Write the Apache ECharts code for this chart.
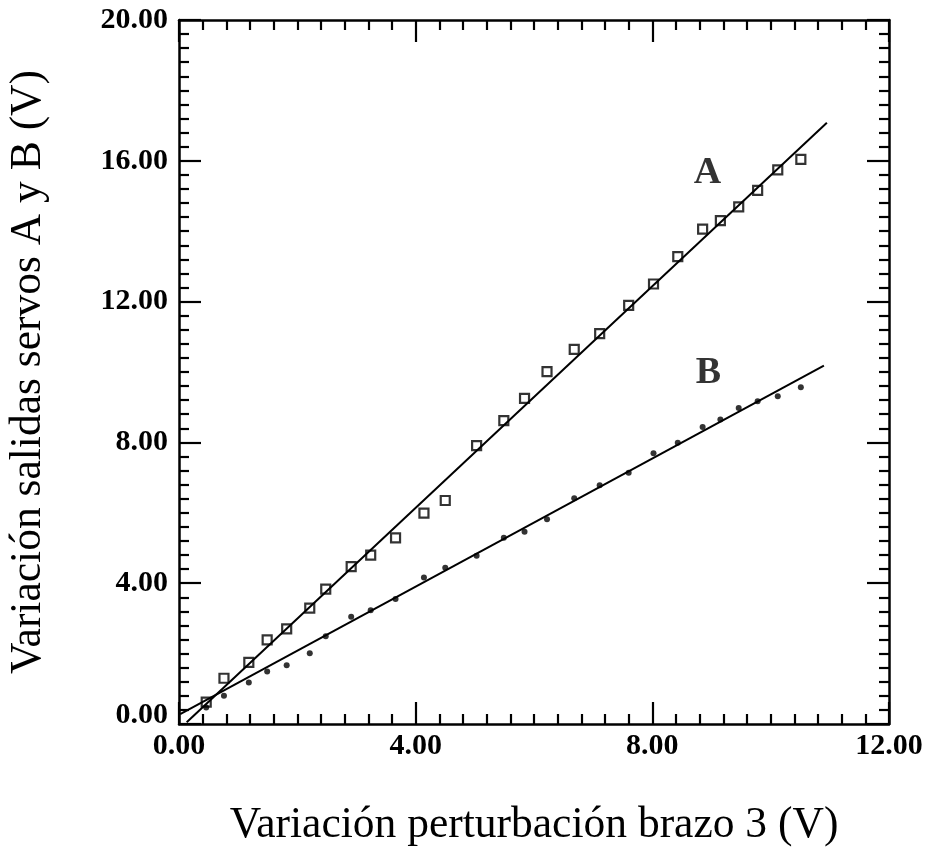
<!DOCTYPE html>
<html>
<head>
<meta charset="utf-8">
<script src="https://cdn.jsdelivr.net/npm/echarts@6/dist/echarts.min.js"></script>
<style>
  html, body { margin: 0; padding: 0; background: #fff; }
  #chart { width: 929px; height: 850px; }
</style>
</head>
<body>
<div id="chart"></div>
<script>
// Perturbation applied to arm 3 (V)
const perturbacion = [0.46, 0.76, 1.18, 1.49, 1.82, 2.21, 2.48, 2.91, 3.24, 3.66, 4.14, 4.50, 5.03, 5.49,
  5.84, 6.22, 6.68, 7.11, 7.60, 8.02, 8.43, 8.85, 9.15, 9.46, 9.78, 10.12, 10.51];
// Output change of servo A (V)
const servoA = [0.62, 1.30, 1.75, 2.39, 2.70, 3.29, 3.83, 4.47, 4.80, 5.29, 5.99, 6.35, 7.91, 8.62,
  9.25, 10.01, 10.64, 11.09, 11.89, 12.50, 13.28, 14.06, 14.30, 14.69, 15.16, 15.74, 16.04];
// Output change of servo B (V)
const servoB = [0.47, 0.80, 1.18, 1.49, 1.67, 2.01, 2.49, 3.05, 3.23, 3.55, 4.16, 4.44, 4.78, 5.29,
  5.46, 5.82, 6.41, 6.78, 7.14, 7.69, 7.99, 8.44, 8.65, 8.98, 9.17, 9.31, 9.57];
// Fitted straight lines (start and end points)
const ajusteA = [[0.13, 0.05], [10.95, 17.08]];
const ajusteB = [[0.02, 0.28], [10.90, 10.18]];
// Curve tags
const etiquetas = [[8.93, 15.65, 'A'], [8.95, 9.98, 'B']];
// Axis ranges
const xMin = 0, xMax = 12, xStep = 4;
const yMin = 0, yMax = 20, yStep = 4;

const serif = '"Liberation Serif", "Times New Roman", serif';
const pairs = (xs, ys) => xs.map((x, i) => [x, ys[i]]);

const tickCommon = {
  axisLine: { show: true, onZero: false, lineStyle: { color: '#000', width: 2.5 } },
  axisTick: { show: true, inside: true, length: 22, lineStyle: { color: '#000', width: 2.2 } },
  minorTick: { show: true, splitNumber: 10, length: 10, lineStyle: { color: '#000', width: 2.2 } },
  splitLine: { show: false },
  minorSplitLine: { show: false }
};

const chart = echarts.init(document.getElementById('chart'), null, { renderer: 'canvas' });
chart.setOption({
  animation: false,
  backgroundColor: '#fff',
  grid: { left: 179, top: 20, right: 40, bottom: 126, outerBoundsMode: 'none', containLabel: false },
  xAxis: [
    Object.assign({
      type: 'value', position: 'bottom', min: xMin, max: xMax, interval: xStep,
      name: 'Variación perturbación brazo 3 (V)', nameLocation: 'middle', nameGap: 80,
      nameTextStyle: { fontFamily: serif, fontSize: 43.5, color: '#000' },
      axisLabel: {
        show: true, margin: 7, showMinLabel: true, showMaxLabel: true,
        fontFamily: serif, fontSize: 30, fontWeight: 'bold', color: '#000',
        formatter: v => v.toFixed(2)
      }
    }, tickCommon),
    Object.assign({
      type: 'value', position: 'top', min: xMin, max: xMax, interval: xStep,
      axisLabel: { show: false }
    }, tickCommon)
  ],
  yAxis: [
    Object.assign({
      type: 'value', position: 'left', min: yMin, max: yMax, interval: yStep,
      name: 'Variación salidas servos A y B (V)', nameLocation: 'middle', nameGap: 128, nameRotate: 90,
      nameTextStyle: { fontFamily: serif, fontSize: 43.5, color: '#000' },
      axisLabel: {
        show: true, margin: 11, showMinLabel: true, showMaxLabel: true,
        fontFamily: serif, fontSize: 30, fontWeight: 'bold', color: '#000',
        formatter: v => v === 0 ? '{lo|' + v.toFixed(2) + '}' : v.toFixed(2),
        rich: {
          lo: { fontFamily: serif, fontSize: 30, fontWeight: 'bold', color: '#000', padding: [0, 0, 18, 0] }
        }
      }
    }, tickCommon),
    Object.assign({
      type: 'value', position: 'right', min: yMin, max: yMax, interval: yStep,
      axisLabel: { show: false }
    }, tickCommon)
  ],
  series: [
    {
      name: 'Ajuste A', type: 'line', data: ajusteA, symbol: 'none',
      lineStyle: { color: '#000', width: 2 }, z: 2
    },
    {
      name: 'Ajuste B', type: 'line', data: ajusteB, symbol: 'none',
      lineStyle: { color: '#000', width: 2 }, z: 2
    },
    {
      name: 'A', type: 'scatter', data: pairs(perturbacion, servoA),
      symbol: 'rect', symbolSize: 9,
      itemStyle: { color: 'rgba(255,255,255,0)', borderColor: '#000', borderWidth: 2.2 }, z: 3
    },
    {
      name: 'B', type: 'scatter', data: pairs(perturbacion, servoB),
      symbol: 'circle', symbolSize: 6,
      itemStyle: { color: '#000' }, z: 3
    },
    {
      name: 'Etiquetas', type: 'scatter', data: etiquetas, symbolSize: 0, silent: true,
      label: {
        show: true, position: 'inside', formatter: p => p.data[2],
        fontFamily: serif, fontSize: 38, fontWeight: 'bold', color: '#000',
        textBorderWidth: 0
      }, z: 4
    }
  ]
});
</script>
</body>
</html>
